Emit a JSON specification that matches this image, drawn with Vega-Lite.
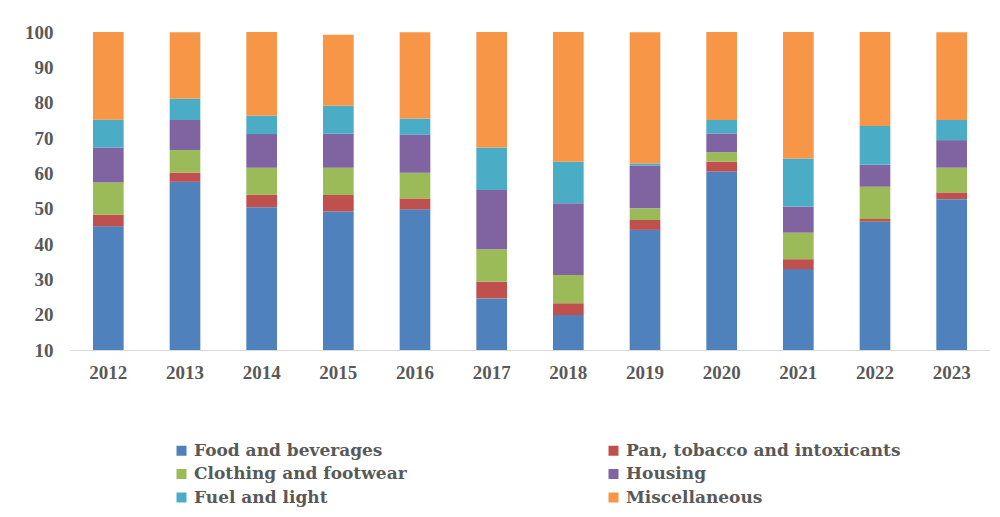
{
  "$schema": "https://vega.github.io/schema/vega-lite/v6.json",
  "width": 920,
  "height": 318,
  "autosize": {"type": "none"},
  "padding": {"left": 70, "top": 32, "right": 10, "bottom": 167},
  "background": "white",
  "config": {"view": {"stroke": null}},
  "data": {
    "values": [
      {"year": "2012", "cat": "Food and beverages", "v": 45.0},
      {"year": "2012", "cat": "Pan, tobacco and intoxicants", "v": 3.3},
      {"year": "2012", "cat": "Clothing and footwear", "v": 9.1},
      {"year": "2012", "cat": "Housing", "v": 9.9},
      {"year": "2012", "cat": "Fuel and light", "v": 7.9},
      {"year": "2012", "cat": "Miscellaneous", "v": 25.4},
      {"year": "2013", "cat": "Food and beverages", "v": 57.6},
      {"year": "2013", "cat": "Pan, tobacco and intoxicants", "v": 2.6},
      {"year": "2013", "cat": "Clothing and footwear", "v": 6.4},
      {"year": "2013", "cat": "Housing", "v": 8.5},
      {"year": "2013", "cat": "Fuel and light", "v": 6.0},
      {"year": "2013", "cat": "Miscellaneous", "v": 18.8},
      {"year": "2014", "cat": "Food and beverages", "v": 50.4},
      {"year": "2014", "cat": "Pan, tobacco and intoxicants", "v": 3.5},
      {"year": "2014", "cat": "Clothing and footwear", "v": 7.7},
      {"year": "2014", "cat": "Housing", "v": 9.5},
      {"year": "2014", "cat": "Fuel and light", "v": 5.2},
      {"year": "2014", "cat": "Miscellaneous", "v": 24.1},
      {"year": "2015", "cat": "Food and beverages", "v": 49.2},
      {"year": "2015", "cat": "Pan, tobacco and intoxicants", "v": 4.7},
      {"year": "2015", "cat": "Clothing and footwear", "v": 7.7},
      {"year": "2015", "cat": "Housing", "v": 9.6},
      {"year": "2015", "cat": "Fuel and light", "v": 7.9},
      {"year": "2015", "cat": "Miscellaneous", "v": 20.1},
      {"year": "2016", "cat": "Food and beverages", "v": 49.8},
      {"year": "2016", "cat": "Pan, tobacco and intoxicants", "v": 3.1},
      {"year": "2016", "cat": "Clothing and footwear", "v": 7.3},
      {"year": "2016", "cat": "Housing", "v": 10.7},
      {"year": "2016", "cat": "Fuel and light", "v": 4.6},
      {"year": "2016", "cat": "Miscellaneous", "v": 24.4},
      {"year": "2017", "cat": "Food and beverages", "v": 24.6},
      {"year": "2017", "cat": "Pan, tobacco and intoxicants", "v": 4.7},
      {"year": "2017", "cat": "Clothing and footwear", "v": 9.2},
      {"year": "2017", "cat": "Housing", "v": 16.8},
      {"year": "2017", "cat": "Fuel and light", "v": 12.0},
      {"year": "2017", "cat": "Miscellaneous", "v": 33.1},
      {"year": "2018", "cat": "Food and beverages", "v": 19.9},
      {"year": "2018", "cat": "Pan, tobacco and intoxicants", "v": 3.3},
      {"year": "2018", "cat": "Clothing and footwear", "v": 8.0},
      {"year": "2018", "cat": "Housing", "v": 20.3},
      {"year": "2018", "cat": "Fuel and light", "v": 11.8},
      {"year": "2018", "cat": "Miscellaneous", "v": 37.1},
      {"year": "2019", "cat": "Food and beverages", "v": 44.0},
      {"year": "2019", "cat": "Pan, tobacco and intoxicants", "v": 2.8},
      {"year": "2019", "cat": "Clothing and footwear", "v": 3.3},
      {"year": "2019", "cat": "Housing", "v": 12.1},
      {"year": "2019", "cat": "Fuel and light", "v": 0.6},
      {"year": "2019", "cat": "Miscellaneous", "v": 37.1},
      {"year": "2020", "cat": "Food and beverages", "v": 60.5},
      {"year": "2020", "cat": "Pan, tobacco and intoxicants", "v": 2.8},
      {"year": "2020", "cat": "Clothing and footwear", "v": 2.7},
      {"year": "2020", "cat": "Housing", "v": 5.3},
      {"year": "2020", "cat": "Fuel and light", "v": 3.8},
      {"year": "2020", "cat": "Miscellaneous", "v": 25.3},
      {"year": "2021", "cat": "Food and beverages", "v": 32.9},
      {"year": "2021", "cat": "Pan, tobacco and intoxicants", "v": 2.8},
      {"year": "2021", "cat": "Clothing and footwear", "v": 7.5},
      {"year": "2021", "cat": "Housing", "v": 7.4},
      {"year": "2021", "cat": "Fuel and light", "v": 13.6},
      {"year": "2021", "cat": "Miscellaneous", "v": 36.2},
      {"year": "2022", "cat": "Food and beverages", "v": 46.3},
      {"year": "2022", "cat": "Pan, tobacco and intoxicants", "v": 0.8},
      {"year": "2022", "cat": "Clothing and footwear", "v": 9.1},
      {"year": "2022", "cat": "Housing", "v": 6.2},
      {"year": "2022", "cat": "Fuel and light", "v": 11.0},
      {"year": "2022", "cat": "Miscellaneous", "v": 27.0},
      {"year": "2023", "cat": "Food and beverages", "v": 52.7},
      {"year": "2023", "cat": "Pan, tobacco and intoxicants", "v": 1.9},
      {"year": "2023", "cat": "Clothing and footwear", "v": 7.0},
      {"year": "2023", "cat": "Housing", "v": 7.8},
      {"year": "2023", "cat": "Fuel and light", "v": 5.7},
      {"year": "2023", "cat": "Miscellaneous", "v": 24.8}
    ]
  },
  "transform": [
    {"calculate": "indexof(['Food and beverages', 'Pan, tobacco and intoxicants', 'Clothing and footwear', 'Housing', 'Fuel and light', 'Miscellaneous'], datum.cat)", "as": "stackOrder"}
  ],
  "mark": {"type": "bar", "clip": true},
  "encoding": {
    "x": {
      "field": "year",
      "type": "nominal",
      "scale": {"paddingInner": 0.6, "paddingOuter": 0.3},
      "axis": {
        "title": null,
        "labelAngle": 0,
        "ticks": false,
        "domain": true,
        "domainColor": "#d9d9d9",
        "labelFont": "Liberation Serif",
        "labelFontWeight": "bold",
        "labelFontSize": 19,
        "labelColor": "#595959",
        "labelPadding": 13
      }
    },
    "y": {
      "field": "v",
      "type": "quantitative",
      "stack": "zero",
      "scale": {"domain": [10, 100], "nice": false, "zero": false},
      "axis": {
        "title": null,
        "values": [10, 20, 30, 40, 50, 60, 70, 80, 90, 100],
        "grid": false,
        "domain": false,
        "ticks": false,
        "labelFont": "Liberation Serif",
        "labelFontWeight": "bold",
        "labelFontSize": 19,
        "labelColor": "#595959",
        "labelPadding": 17
      }
    },
    "order": {"field": "stackOrder", "type": "quantitative", "sort": "ascending"},
    "color": {
      "field": "cat",
      "type": "nominal",
      "scale": {
        "domain": ["Food and beverages", "Pan, tobacco and intoxicants", "Clothing and footwear", "Housing", "Fuel and light", "Miscellaneous"],
        "range": ["#4f81bd", "#c0504d", "#9bbb59", "#8064a2", "#4bacc6", "#f79646"]
      },
      "legend": {
        "title": null,
        "orient": "none",
        "direction": "horizontal",
        "legendX": 103,
        "legendY": 410,
        "columns": 2,
        "columnPadding": 198,
        "rowPadding": 5.5,
        "padding": 0,
        "symbolType": "square",
        "symbolSize": 100,
        "symbolStrokeWidth": 0,
        "labelOffset": 4,
        "labelFont": "DejaVu Serif",
        "labelFontWeight": "bold",
        "labelFontSize": 17,
        "labelColor": "#595959",
        "labelLimit": 400
      }
    }
  }
}
